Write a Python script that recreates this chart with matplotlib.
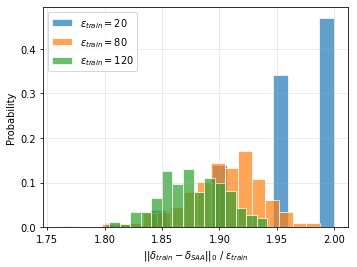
import numpy as np
import matplotlib
matplotlib.use("Agg")
import matplotlib.pyplot as plt

# histogram heights (probability per bin)
# eps_train = 20 : 15 bins between 1.80 and 2.00
blue_range = (1.80, 2.00)
blue_heights = [0.009, 0, 0, 0.039, 0, 0, 0, 0.140, 0, 0, 0, 0.342, 0, 0, 0.470]

# eps_train = 80 : 19 bins between 1.7625 and 1.9875
orange_range = (1.7625, 1.9875)
orange_heights = [0.002, 0, 0, 0.006, 0.007, 0.009, 0.031, 0.033, 0.046, 0.078,
                  0.102, 0.143, 0.132, 0.170, 0.107, 0.060, 0.034, 0.009, 0.009]

# eps_train = 120 : 20 bins between 1.7583 and 1.9417
green_range = (1.758333, 1.941667)
green_heights = [0.001, 0, 0, 0, 0, 0.011, 0.008, 0.033, 0.035, 0.065,
                 0.126, 0.097, 0.131, 0.079, 0.110, 0.098, 0.082, 0.044, 0.028, 0.021]

labels = [r"$\varepsilon_{train} = 20$", r"$\varepsilon_{train} = 80$", r"$\varepsilon_{train} = 120$"]
colors = ["tab:blue", "tab:orange", "tab:green"]

fig, ax = plt.subplots(figsize=(5, 3.75), dpi=357 / 5)
fig.subplots_adjust(left=0.12, right=0.975, top=0.97, bottom=0.149)

for rng, heights, lab, col in zip([blue_range, orange_range, green_range],
                                  [blue_heights, orange_heights, green_heights],
                                  labels, colors):
    edges = np.linspace(rng[0], rng[1], len(heights) + 1)
    ax.bar(edges[:-1], heights, width=np.diff(edges), align="edge",
           color=col, alpha=0.7, edgecolor="white", linewidth=1, label=lab)

ax.grid(alpha=0.3)
ax.set_xlabel(r"$||\delta_{train} - \delta_{SAA}||_0\ /\ \varepsilon_{train}$")
ax.set_ylabel("Probability")
ax.legend(loc="upper left")

plt.savefig("out.png")
